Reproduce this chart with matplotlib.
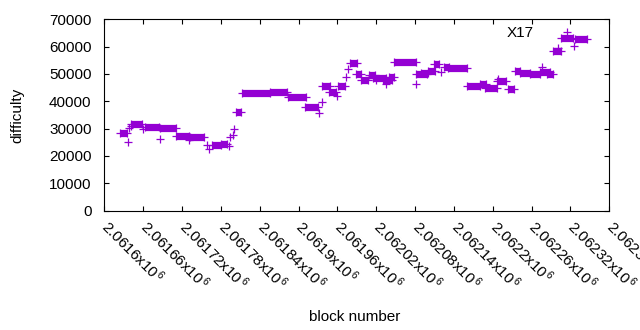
import matplotlib
matplotlib.use("Agg")
import matplotlib.pyplot as plt
from matplotlib.lines import Line2D
from matplotlib.transforms import ScaledTranslation

plt.rcParams['font.family'] = ['Liberation Sans', 'DejaVu Sans']
plt.rcParams['mathtext.fontset'] = 'custom'
plt.rcParams['mathtext.rm'] = 'Liberation Sans'
plt.rcParams['mathtext.it'] = 'Liberation Sans'

# plateaus of consecutive blocks sharing (about) the same difficulty
plateau_start = [2061624, 2061641, 2061663, 2061686, 2061711, 2061732, 2061766, 2061781,
                 2061803, 2061813, 2061856, 2061883, 2061910, 2061937, 2061947, 2061961,
                 2061979, 2061988, 2061996, 2062009, 2062015, 2062031, 2062040, 2062047,
                 2062082, 2062089, 2062100, 2062109, 2062124, 2062131, 2062160, 2062180,
                 2062188, 2062206, 2062223, 2062234, 2062242, 2062257, 2062273, 2062284,
                 2062293, 2062306, 2062327]
plateau_end = [2061635, 2061659, 2061684, 2061710, 2061731, 2061754, 2061781, 2061789,
               2061811, 2061856, 2061882, 2061912, 2061930, 2061949, 2061958, 2061972,
               2061990, 2061996, 2062008, 2062018, 2062035, 2062044, 2062047, 2062081,
               2062098, 2062100, 2062111, 2062117, 2062132, 2062160, 2062181, 2062190,
               2062206, 2062221, 2062233, 2062242, 2062257, 2062273, 2062288, 2062293,
               2062306, 2062324, 2062346]
plateau_diff = [28200, 31600, 30450, 30100, 27150, 26800, 24000, 24350,
                36000, 42900, 43270, 41670, 38000, 45470, 43500, 45700,
                53900, 49870, 47700, 49500, 48400, 47780, 48760, 54250,
                49970, 50450, 51180, 53520, 52650, 52050, 45580, 46200,
                44730, 47300, 44360, 51180, 50500, 49900, 50800, 49800,
                58400, 63030, 62670]

# isolated blocks
point_block = [2061636, 2061638, 2061641, 2061660, 2061686, 2061731, 2061758, 2061761,
               2061792, 2061794, 2061799, 2061801, 2061932, 2061936, 2061959, 2061973,
               2061977, 2062020, 2062035, 2062081, 2062120, 2062208, 2062276, 2062301,
               2062326]
point_diff = [24970, 30100, 30900, 29700, 26060, 25800, 24000, 22400,
              23700, 27000, 27600, 29800, 35580, 39830, 42000, 49000,
              51800, 47780, 46300, 46200, 50800, 48000, 52650, 59500,
              60330]

x_ticks = [2061600, 2061660, 2061720, 2061780, 2061840, 2061900, 2061960,
           2062020, 2062080, 2062140, 2062200, 2062260, 2062320, 2062380]
x_ticklabels = ['2.0616', '2.06166', '2.06172', '2.06178', '2.06184', '2.0619', '2.06196',
                '2.06202', '2.06208', '2.06214', '2.0622', '2.06226', '2.06232', '2.06238']
y_ticks = [0, 10000, 20000, 30000, 40000, 50000, 60000, 70000]

color = '#9400d3'
ms = 5.2
mew = 0.9

fig = plt.figure(figsize=(6.4, 3.3), dpi=100)
ax = fig.add_axes([104.3 / 640, 1 - 210.5 / 330, 505 / 640, 191.2 / 330])

ax.hlines(plateau_diff, plateau_start, plateau_end, colors=color,
          linewidth=ms, capstyle='butt', zorder=2)
ax.plot(plateau_start + plateau_end, plateau_diff + plateau_diff, linestyle='none',
        marker='+', ms=ms, mew=mew, color=color, zorder=3)
ax.plot(point_block, point_diff, linestyle='none', marker='+', ms=ms, mew=mew,
        color=color, zorder=3)

ax.set_xlim(x_ticks[0], x_ticks[-1])
ax.set_ylim(0, 70000)
ax.set_xticks(x_ticks)
ax.set_xticklabels([])
offset = ScaledTranslation(7 / 100, -6.3 / 100, fig.dpi_scale_trans)
for v, l in zip(x_ticks, x_ticklabels):
    ax.text(v, 0, l + r'x10$^{\,6}$', transform=ax.get_xaxis_transform() + offset,
            rotation=-45, rotation_mode='anchor', ha='left', va='top',
            fontsize=11, clip_on=False)
ax.set_yticks(y_ticks)
ax.set_yticklabels([str(v) for v in y_ticks], fontsize=11)
ax.tick_params(direction='in', length=3.5, width=0.8, top=True, right=True,
               colors='black')
ax.tick_params(axis='y', pad=9.2)
for s in ax.spines.values():
    s.set_linewidth(0.8)

ax.set_xlabel('block number', fontsize=11)
ax.xaxis.set_label_coords(0.496, -0.52)
ax.set_ylabel('difficulty', fontsize=11)
ax.yaxis.set_label_coords(-0.158, 0.5)

handle = Line2D([], [], linestyle='none', marker='+', ms=ms, mew=mew, color=color)
ax.legend([handle], ['X17'], loc='upper right', bbox_to_anchor=(0.9586, 0.996),
          borderaxespad=0, frameon=False, markerfirst=False, handlelength=2,
          handletextpad=1.2, fontsize=11)

fig.savefig('out.png', dpi=100)
